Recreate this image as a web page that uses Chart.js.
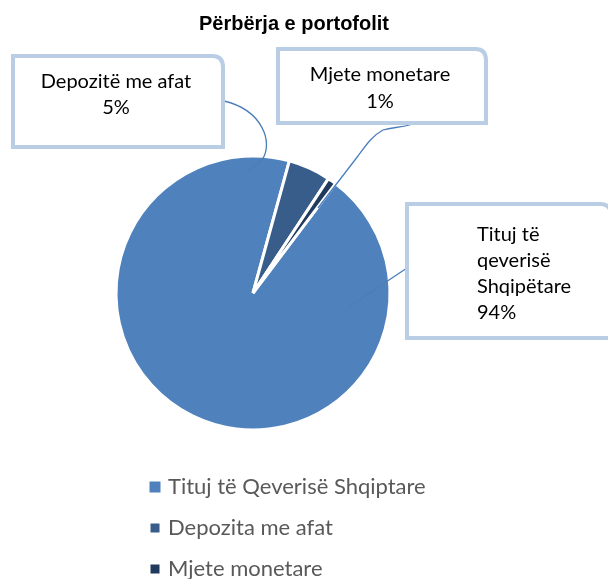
<!DOCTYPE html>
<html>
<head>
<meta charset="utf-8">
<script src="https://cdn.jsdelivr.net/npm/chart.js@4.4.1/dist/chart.umd.min.js"></script>
<style>
  html, body { margin: 0; padding: 0; background: #fff; }
  #wrap { width: 608px; height: 579px; }
</style>
</head>
<body>
<div id="wrap"><canvas id="chart" width="608" height="579"></canvas></div>
<script>
'use strict';

// data
const chartTitle = 'Përbërja e portofolit';
const categories = ['Tituj të Qeverisë Shqiptare', 'Depozita me afat', 'Mjete monetare'];
const shares = [94, 5, 1];
const calloutNames = [['Tituj të', 'qeverisë', 'Shqipëtare'], ['Depozitë me afat'], ['Mjete monetare']];
const sliceColors = ['#4f81bd', '#385d8a', '#1f3a5c'];

// callout boxes (layout only)
const callouts = [
  { box: [407, 204, 204, 134], align: 'left', textX: 477, firstY: 235, lineH: 26,
    leader: [[407, 268], [350, 306]] },
  { box: [13, 56, 210, 91], align: 'center', textX: 116, firstY: 82, lineH: 26,
    leader: [[224, 101], [262, 110, 274, 142, 262, 160], [247, 172]] },
  { box: [278, 49, 208, 74], align: 'center', textX: 380, firstY: 75, lineH: 27,
    leader: [[413, 124], [400, 128, 393, 127, 383, 130], [372, 136, 366, 145, 358, 156], [318, 208]] }
];

function roundBox(ctx, x, y, w, h, r) {
  ctx.beginPath();
  ctx.moveTo(x, y);
  ctx.lineTo(x + w - r, y);
  ctx.quadraticCurveTo(x + w, y, x + w, y + r);
  ctx.lineTo(x + w, y + h);
  ctx.lineTo(x, y + h);
  ctx.closePath();
}

const decorPlugin = {
  id: 'decor',
  afterDraw(chart) {
    const ctx = chart.ctx;
    ctx.save();

    // title
    ctx.fillStyle = '#000';
    ctx.font = 'bold 20px "Liberation Sans", Arial, sans-serif';
    ctx.textAlign = 'center';
    ctx.textBaseline = 'middle';
    ctx.fillText(chartTitle, 294, 24);

    // leader lines
    ctx.strokeStyle = '#4a7ebb';
    ctx.lineWidth = 1.3;
    callouts.forEach(c => {
      ctx.beginPath();
      c.leader.forEach((p, k) => {
        if (k === 0) ctx.moveTo(p[0], p[1]);
        else if (p.length === 6) ctx.bezierCurveTo(p[0], p[1], p[2], p[3], p[4], p[5]);
        else ctx.lineTo(p[0], p[1]);
      });
      ctx.stroke();
    });

    // boxes + text
    callouts.forEach((c, i) => {
      const [x, y, w, h] = c.box;
      roundBox(ctx, x, y, w, h, 11);
      ctx.fillStyle = '#fff';
      ctx.fill();
      ctx.strokeStyle = '#b9cde5';
      ctx.lineWidth = 4;
      ctx.stroke();

      const lines = calloutNames[i].concat([shares[i] + '%']);
      ctx.fillStyle = '#000';
      ctx.font = '20px Lato, sans-serif';
      ctx.textAlign = c.align;
      ctx.textBaseline = 'middle';
      lines.forEach((t, k) => ctx.fillText(t, c.textX, c.firstY + k * c.lineH));
    });

    // legend
    const colors = chart.data.datasets[0].backgroundColor;
    chart.data.labels.forEach((lab, i) => {
      const cy = 487 + i * 41;
      const s = i === 0 ? 11 : 9;
      ctx.fillStyle = colors[i];
      ctx.fillRect(155 - s / 2, cy - s / 2, s, s);
      ctx.fillStyle = '#595959';
      ctx.font = '22px Lato, sans-serif';
      ctx.textAlign = 'left';
      ctx.fillText(lab, 168, cy);
    });

    ctx.restore();
  }
};

const canvasElem = document.getElementById('chart');

const data = {
  labels: categories,
  datasets: [{
    data: shares,
    backgroundColor: sliceColors,
    borderColor: '#ffffff',
    borderWidth: 3
  }]
};

const config = {
  type: 'pie',
  data: data,
  options: {
    responsive: false,
    animation: false,
    rotation: 37,
    radius: 137,
    layout: { padding: { top: 150, bottom: 143, left: 110, right: 212 } },
    plugins: {
      legend: { display: false },
      title: { display: false },
      tooltip: { enabled: false }
    }
  },
  plugins: [decorPlugin]
};

const myChart = new Chart(canvasElem, config);
</script>
</body>
</html>
